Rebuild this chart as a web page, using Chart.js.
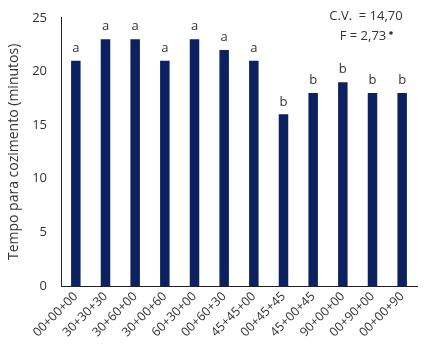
<!DOCTYPE html>
<html lang="pt">
<head>
  <meta charset="UTF-8">
  <title>Tempo para cozimento</title>
  <script src="https://cdn.jsdelivr.net/npm/chart.js"></script>
  <style>
    html, body { margin: 0; padding: 0; background: #fff; }
    #wrap { width: 427px; height: 351px; position: relative; }
  </style>
</head>
<body>
<div id="wrap"><canvas id="grafico"></canvas></div>
<script>
const tratamentos = ["00+00+00", "30+30+30", "30+60+00", "30+00+60", "60+30+00", "00+60+30",
  "45+45+00", "00+45+45", "45+00+45", "90+00+00", "00+90+00", "00+00+90"];
const tempos = [21, 23, 23, 21, 23, 22, 21, 16, 18, 19, 18, 18];
const letras = ["a", "a", "a", "a", "a", "a", "a", "b", "b", "b", "b", "b"];
const yTicks = [0, 5, 10, 15, 20, 25];

const fonte = "'Open Sans', Lato, sans-serif";
const corTexto = "#333";

const letrasPlugin = {
  id: "letras",
  afterDatasetsDraw(chart) {
    const ctx = chart.ctx;
    const meta = chart.getDatasetMeta(0);
    ctx.save();
    ctx.font = "13px " + fonte;
    ctx.fillStyle = corTexto;
    ctx.textAlign = "center";
    ctx.textBaseline = "bottom";
    meta.data.forEach((bar, i) => {
      ctx.fillText(letras[i], bar.x, bar.y - 6);
    });
    // estatisticas
    ctx.font = "13px " + fonte;
    ctx.fillText("C.V.  = 14,70", 366, 23);
    ctx.fillText("F = 2,73", 363, 43);
    ctx.beginPath();
    ctx.arc(391, 33, 1.8, 0, Math.PI * 2);
    ctx.fill();
    ctx.restore();
  }
};

new Chart(document.getElementById("grafico"), {
  type: "bar",
  data: {
    labels: tratamentos,
    datasets: [{
      data: tempos,
      backgroundColor: "#0b2160",
      barPercentage: 0.32,
      categoryPercentage: 1
    }]
  },
  options: {
    responsive: true,
    maintainAspectRatio: false,
    animation: false,
    layout: { padding: { top: 17, right: 10, left: 6, bottom: 0 } },
    plugins: { legend: { display: false }, tooltip: { enabled: false } },
    scales: {
      x: {
        grid: { display: false, drawTicks: false },
        border: { color: "#222", width: 1 },
        ticks: {
          color: corTexto, font: { family: fonte, size: 12.5 },
          maxRotation: 45, minRotation: 45, padding: 3
        },
        afterFit(scale) { scale.height = 65; }
      },
      y: {
        min: 0, max: 25,
        grid: { display: false, drawOnChartArea: false, drawTicks: true, tickLength: 4, color: "#222" },
        border: { color: "#222", width: 1 },
        afterBuildTicks(scale) { scale.ticks = yTicks.map(v => ({ value: v })); },
        ticks: { color: corTexto, font: { family: fonte, size: 13 }, padding: 10 },
        title: {
          display: true, text: "Tempo para cozimento (minutos)",
          color: corTexto, font: { family: fonte, size: 14 }, padding: { top: 0, bottom: 4 }
        },
        afterFit(scale) { scale.width = 55; }
      }
    }
  },
  plugins: [letrasPlugin]
});
</script>
</body>
</html>
